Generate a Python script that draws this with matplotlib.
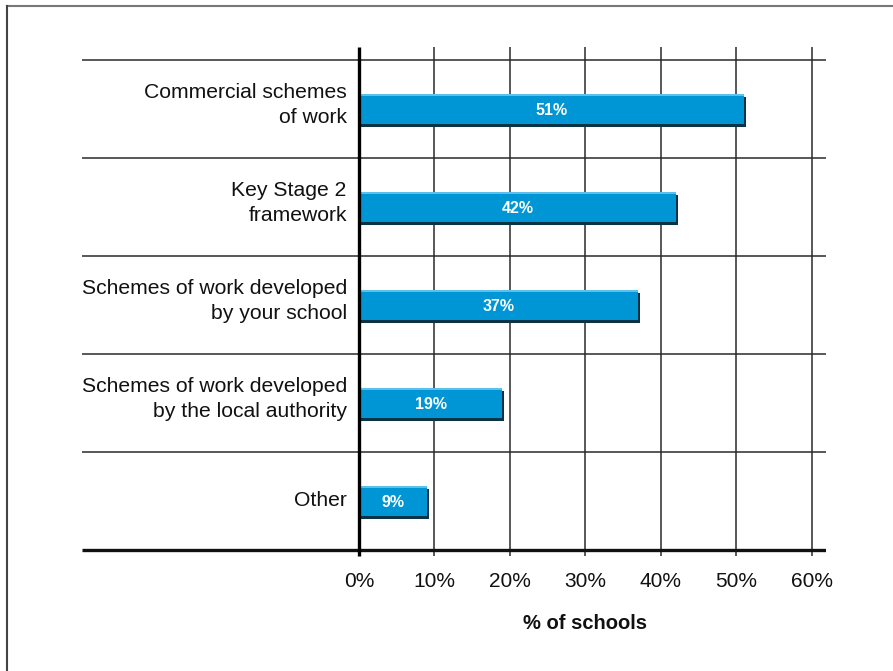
import matplotlib
matplotlib.use("Agg")
import matplotlib.pyplot as plt
from matplotlib.lines import Line2D
from matplotlib.patches import Rectangle

plt.rcParams['font.family'] = ['Liberation Sans', 'DejaVu Sans']

# survey results, top to bottom
categories = [
    "Commercial schemes\nof work",
    "Key Stage 2\nframework",
    "Schemes of work developed\nby your school",
    "Schemes of work developed\nby the local authority",
    "Other",
]
values = [51, 42, 37, 19, 9]
ticks = [0, 10, 20, 30, 40, 50, 60]
tick_labels = ["0%", "10%", "20%", "30%", "40%", "50%", "60%"]
xlabel = "% of schools"

BAR_BLUE = '#0096d6'
BAR_SHADOW = '#0b3346'
BAR_LIGHT = '#5cc0ea'

fig = plt.figure(figsize=(8.93, 6.71), dpi=100)
ax = fig.add_axes([82 / 893, 1 - 569.6 / 671, (826 - 82) / 893, (569.6 - 40.4) / 671])
ax.set_xlim(-36.7, 61.9)
ax.set_ylim(4.7, -0.7)
ax.axis('off')

n = len(categories)
# category separators
for i in range(n):
    ax.plot([-36.7, 61.9], [i - 0.5, i - 0.5], color='#4a4a4a', lw=1.3,
            solid_capstyle='butt', zorder=1)
ax.plot([-36.7, 61.9], [n - 0.5, n - 0.5], color='#111111', lw=2.4,
        solid_capstyle='butt', zorder=3)

# vertical gridlines
for t in ticks:
    lw = 2.4 if t == 0 else 1.1
    col = '#000000' if t == 0 else '#2a2a2a'
    ax.plot([t, t], [-0.633, n - 0.44], color=col, lw=lw,
            solid_capstyle='butt', zorder=2 if t else 4)
    ax.text(t, n - 0.5 + 0.32, tick_labels[t // 10], ha='center', va='center',
            fontsize=15, color='#111111')

ax.text(30, n - 0.5 + 0.755, xlabel, ha='center', va='center',
        fontsize=14.5, fontweight='bold', color='#111111')

# bars with a dark drop edge and a light top edge
bh = 0.306
dx = 0.25
dy = 0.03
for i, (cat, v) in enumerate(zip(categories, values)):
    ax.add_patch(Rectangle((0, i - bh / 2 + dy), v + dx, bh, color=BAR_SHADOW,
                           lw=0, zorder=3))
    ax.add_patch(Rectangle((0, i - bh / 2), v, bh, color=BAR_BLUE, lw=0, zorder=3.1))
    ax.add_patch(Rectangle((0, i - bh / 2), v, 0.025, color=BAR_LIGHT, lw=0, zorder=3.2))
    ax.text(v / 2, i + 0.015, f"{v}%", ha='center', va='center', color='white',
            fontsize=11.5, fontweight='bold', zorder=5)
    ax.text(-1.6, i - (0.04 if '\n' in cat else 0), cat, ha='right', va='center',
            fontsize=15.2, color='#111111', linespacing=1.45)

# outer frame, top and left edges
fig.add_artist(Line2D([7 / 893, 1], [1 - 6 / 671, 1 - 6 / 671], color='#777777',
                      lw=1.5, transform=fig.transFigure))
fig.add_artist(Line2D([7 / 893, 7 / 893], [0, 1 - 6 / 671], color='#444444',
                      lw=1.5, transform=fig.transFigure))

fig.savefig('out.png', dpi=100)
